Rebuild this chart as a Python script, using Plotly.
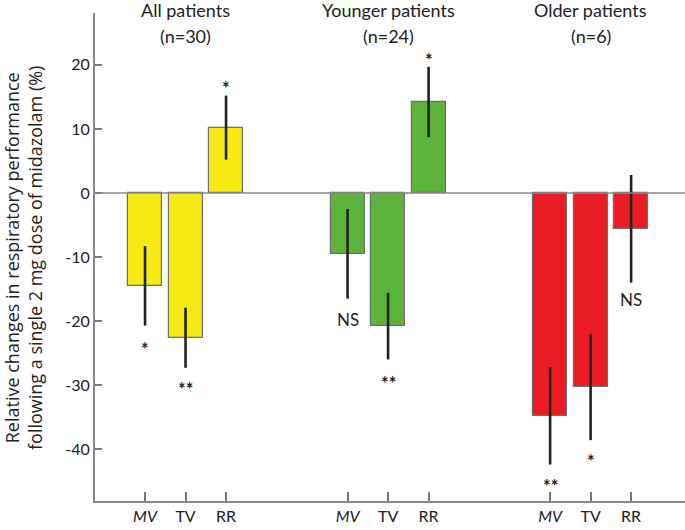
import plotly.graph_objects as go

groups = ["All patients", "Younger patients", "Older patients"]
group_n = ["(n=30)", "(n=24)", "(n=6)"]
measures = ["MV", "TV", "RR"]
positions = [0, 1, 2, 5, 6, 7, 10, 11, 12]
values = [-14.5, -22.6, 10.2, -9.5, -20.8, 14.2, -34.8, -30.3, -5.6]
errors = [6.2, 4.7, 5.0, 7.0, 5.2, 5.5, 7.6, 8.3, 8.4]
signif = ["*", "**", "*", "NS", "**", "*", "**", "*", "NS"]
signif_y = [-23.6, -29.8, 17.2, -19.7, -28.9, 21.6, -45.0, -41.1, -16.6]
group_colors = ["#f7ea14", "#5db43c", "#ec1c24"]
ytick_vals = [-40, -30, -20, -10, 0, 10, 20]
ytick_text = ["-40", "-30", "-20", "-10", "0", "10", "20"]
xtick_text = ["<i>MV</i>", "TV", "RR"] * 3

FONT = "Lato"
W, H = 685, 530
PL, PT, PB = 95, 13, 501          # plot area edges in pixels
PW, PH = W - PL, PB - PT


def py2paper(py):
    return (PB - py) / PH


def px2paper(px):
    return (px - PL) / PW


fig = go.Figure()
for g in range(3):
    idx = slice(3 * g, 3 * g + 3)
    fig.add_trace(go.Bar(
        x=positions[idx], y=values[idx], width=0.84,
        marker=dict(color=group_colors[g], line=dict(color="#6e6e6e", width=1.2)),
        error_y=dict(type="data", array=errors[idx], width=0, thickness=2.6, color="#222"),
        showlegend=False, hoverinfo="skip",
    ))

for p, s, sy in zip(positions, signif, signif_y):
    is_star = s.startswith("*")
    fig.add_annotation(x=p, y=sy, text=("<b>%s</b>" % s) if is_star else s, showarrow=False,
                       xanchor="center", yanchor="middle",
                       yshift=-5 if is_star else 0,
                       font=dict(family=FONT, size=18 if is_star else 17, color="#222"))

for g in range(3):
    cx = positions[3 * g + 1]
    fig.add_annotation(x=cx, xref="x", y=py2paper(10), yref="paper", text=groups[g],
                       showarrow=False, yanchor="middle", font=dict(family=FONT, size=18, color="#222"))
    fig.add_annotation(x=cx, xref="x", y=py2paper(36), yref="paper", text=group_n[g],
                       showarrow=False, yanchor="middle", font=dict(family=FONT, size=18, color="#222"))

fig.add_annotation(
    x=px2paper(23), xref="paper", y=py2paper(258), yref="paper",
    text="Relative changes in respiratory performance<br>following a single 2 mg dose of midazolam (%)",
    textangle=-90, showarrow=False, align="center", xanchor="center", yanchor="middle",
    font=dict(family="Open Sans", size=18, color="#222"))

fig.add_shape(type="line", xref="paper", yref="y", x0=0, x1=1, y0=0, y1=0,
              line=dict(color="#888", width=1.5))

fig.update_layout(
    width=W, height=H,
    margin=dict(l=PL, r=0, t=PT, b=H - PB, autoexpand=False),
    paper_bgcolor="white", plot_bgcolor="white", bargap=0,
    font=dict(family=FONT, size=16, color="#222"),
    xaxis=dict(range=[-1.235, 13.33], tickvals=positions, ticktext=xtick_text,
               ticks="inside", ticklen=9, tickwidth=1.5, tickcolor="#777",
               showline=True, linecolor="#888", linewidth=2, showgrid=False, zeroline=False,
               automargin=False, tickfont=dict(family=FONT, size=16, color="#222")),
    yaxis=dict(range=[-48.1, 28.1], tickvals=ytick_vals, ticktext=ytick_text,
               ticks="inside", ticklen=7, tickwidth=1.5, tickcolor="#777",
               showline=True, linecolor="#888", linewidth=2, showgrid=False, zeroline=False,
               automargin=False, tickfont=dict(family=FONT, size=16, color="#222")),
)
fig.write_html("out.html", config={"displayModeBar": False},
               post_script="document.body.style.margin='0';document.body.style.overflow='hidden';")
